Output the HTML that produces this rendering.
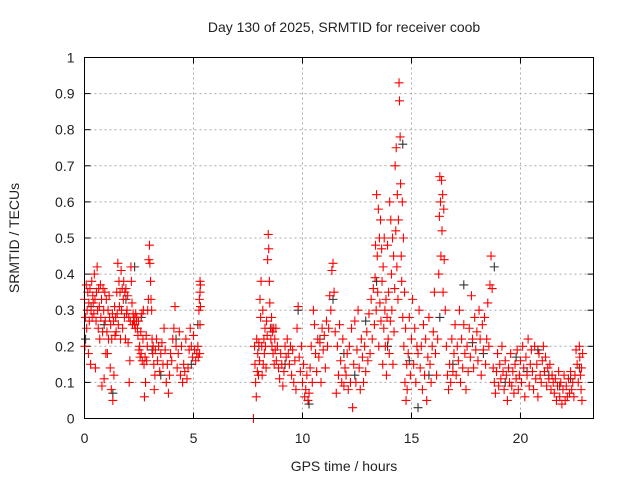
<!DOCTYPE html>
<html><head><meta charset="utf-8"><style>
body{margin:0;background:#fff}
svg text{font-family:"Liberation Sans",sans-serif;font-size:14px;fill:#222}
</style></head><body>
<svg id="chart" width="640" height="480" viewBox="0 0 640 480" xmlns="http://www.w3.org/2000/svg">
<text x="344" y="32" text-anchor="middle">Day 130 of 2025, SRMTID for receiver coob</text>
<text x="344" y="471" text-anchor="middle">GPS time / hours</text>
<text transform="translate(19,238) rotate(-90)" text-anchor="middle">SRMTID / TECUs</text>
<g id="grid"></g>
<g id="axes"></g>
<g id="black-series"></g>
<g id="red-series"></g>
<rect x="84.5" y="57.5" width="509" height="361" fill="none" stroke="#000" stroke-width="1"/>
</svg>
<script>
const xTicks=[0,5,10,15,20];
const yTicks=[0,0.1,0.2,0.3,0.4,0.5,0.6,0.7,0.8,0.9,1];
const yTickLabels=["0","0.1","0.2","0.3","0.4","0.5","0.6","0.7","0.8","0.9","1"];
const redHours=[
0.0,0.02,0.05,0.08,0.1,0.12,0.15,0.18,0.2,0.22,
0.25,0.28,0.3,0.33,0.35,0.38,0.4,0.43,0.45,0.48,
0.5,0.53,0.55,0.58,0.6,0.63,0.65,0.68,0.7,0.73,
0.75,0.78,0.8,0.83,0.85,0.88,0.9,0.93,0.95,0.98,
1.0,1.03,1.05,1.08,1.1,1.13,1.15,1.18,1.2,1.23,
1.25,1.28,1.3,1.33,1.35,1.38,1.4,1.43,1.45,1.48,
1.5,1.53,1.55,1.58,1.6,1.63,1.65,1.68,1.7,1.73,
1.75,1.78,1.8,1.83,1.85,1.88,1.9,1.93,1.95,1.98,
2.0,2.03,2.05,2.08,2.1,2.13,2.15,2.18,2.2,2.23,
2.25,2.28,2.3,2.33,2.35,2.38,2.4,2.43,2.45,2.48,
2.5,2.53,2.55,2.58,2.6,2.63,2.65,2.68,2.7,2.73,
2.75,2.78,2.8,2.83,2.85,2.88,2.9,2.93,2.95,2.98,
3.0,3.03,3.05,3.08,3.1,3.13,3.15,3.18,3.2,3.23,
3.25,3.3,3.35,3.4,3.45,3.5,3.55,3.6,3.65,3.7,
3.75,3.8,3.85,3.9,3.95,4.0,4.05,4.1,4.15,4.2,
4.25,4.3,4.35,4.4,4.45,4.5,4.55,4.6,4.65,4.7,
4.75,4.8,4.85,4.9,4.95,5.0,5.05,5.1,5.15,5.2,
5.22,5.25,5.27,5.3,5.3,5.32,5.32,5.3,5.28,7.75,
7.8,7.82,7.85,7.88,7.9,7.93,7.95,7.98,8.0,8.03,
8.05,8.08,8.1,8.13,8.15,8.18,8.2,8.23,8.25,8.28,
8.3,8.33,8.35,8.38,8.4,8.43,8.45,8.48,8.5,8.53,
8.55,8.58,8.6,8.63,8.65,8.68,8.7,8.73,8.75,8.78,
8.8,8.85,8.9,8.95,9.0,9.05,9.1,9.15,9.2,9.25,
9.3,9.35,9.4,9.45,9.5,9.55,9.6,9.65,9.7,9.75,
9.8,9.85,9.9,9.95,10.0,10.05,10.1,10.15,10.2,10.25,
10.3,10.35,10.4,10.45,10.5,10.55,10.6,10.65,10.7,10.75,
10.8,10.85,10.9,10.95,11.0,11.05,11.1,11.15,11.2,11.25,
11.3,11.35,11.4,11.45,11.5,11.55,11.6,11.65,11.7,11.75,
11.8,11.85,11.9,11.95,12.0,12.05,12.1,12.15,12.2,12.25,
12.3,12.35,12.4,12.45,12.5,12.55,12.6,12.65,12.7,12.75,
12.8,12.85,12.9,12.95,13.0,13.05,13.1,13.15,13.2,13.25,
13.3,13.33,13.35,13.38,13.4,13.43,13.45,13.48,13.5,13.53,
13.55,13.58,13.6,13.63,13.65,13.68,13.7,13.73,13.75,13.78,
13.8,13.83,13.85,13.88,13.9,13.93,13.95,13.98,14.0,14.03,
14.05,14.08,14.1,14.13,14.15,14.18,14.2,14.23,14.25,14.28,
14.3,14.33,14.35,14.38,14.4,14.43,14.45,14.48,14.5,14.53,
14.55,14.58,14.6,14.63,14.65,14.68,14.7,14.73,14.75,14.78,
14.8,14.85,14.9,14.95,15.0,15.05,15.1,15.15,15.2,15.25,
15.3,15.35,15.4,15.45,15.5,15.55,15.6,15.65,15.7,15.75,
15.8,15.85,15.9,15.95,16.0,16.05,16.1,16.15,16.2,16.25,
16.28,16.3,16.33,16.35,16.38,16.4,16.43,16.45,16.48,16.5,
16.55,16.6,16.65,16.7,16.75,16.8,16.85,16.9,16.95,17.0,
17.05,17.1,17.15,17.2,17.25,17.3,17.35,17.4,17.45,17.5,
17.55,17.6,17.65,17.7,17.75,17.8,17.85,17.9,17.95,18.0,
18.05,18.1,18.15,18.2,18.25,18.3,18.35,18.4,18.45,18.5,
18.55,18.6,18.65,18.7,18.75,18.8,18.85,18.9,18.95,19.0,
19.05,19.1,19.15,19.2,19.25,19.3,19.35,19.4,19.45,19.5,
19.55,19.6,19.65,19.7,19.75,19.8,19.85,19.9,19.95,20.0,
20.05,20.1,20.15,20.2,20.25,20.3,20.35,20.4,20.45,20.5,
20.55,20.6,20.65,20.7,20.75,20.8,20.85,20.9,20.95,21.0,
21.05,21.1,21.15,21.2,21.25,21.3,21.35,21.4,21.45,21.5,
21.55,21.6,21.65,21.7,21.75,21.8,21.85,21.9,21.95,22.0,
22.05,22.1,22.15,22.2,22.25,22.3,22.35,22.4,22.45,22.5,
22.55,22.6,22.65,22.7,22.72,22.75,22.78,22.8,22.82,22.85];
const redValues=[
0.33,0.2,0.28,0.37,0.25,0.3,0.35,0.18,0.32,0.27,
0.36,0.15,0.3,0.38,0.28,0.34,0.32,0.29,0.4,0.33,
0.14,0.27,0.35,0.42,0.3,0.25,0.36,0.31,0.22,0.37,
0.28,0.33,0.09,0.24,0.36,0.3,0.11,0.35,0.27,0.18,
0.33,0.24,0.18,0.3,0.22,0.34,0.28,0.14,0.26,0.08,
0.22,0.29,0.05,0.27,0.12,0.31,0.23,0.28,0.24,0.35,
0.29,0.43,0.26,0.38,0.31,0.35,0.22,0.41,0.3,0.36,
0.25,0.33,0.38,0.28,0.35,0.22,0.36,0.29,0.3,0.34,
0.21,0.28,0.1,0.16,0.27,0.42,0.38,0.32,0.26,0.29,
0.27,0.28,0.26,0.25,0.29,0.27,0.28,0.25,0.23,0.27,
0.19,0.2,0.17,0.24,0.18,0.29,0.16,0.22,0.3,0.15,
0.06,0.17,0.1,0.23,0.16,0.2,0.3,0.33,0.44,0.48,
0.43,0.38,0.33,0.3,0.22,0.18,0.2,0.15,0.08,0.12,
0.19,0.22,0.16,0.2,0.13,0.18,0.21,0.15,0.25,0.19,
0.1,0.15,0.07,0.12,0.18,0.16,0.22,0.25,0.31,0.2,
0.14,0.18,0.24,0.12,0.2,0.1,0.15,0.13,0.22,0.11,
0.14,0.19,0.25,0.2,0.17,0.23,0.19,0.16,0.18,0.2,
0.17,0.3,0.33,0.35,0.38,0.37,0.31,0.26,0.18,0.0,
0.2,0.15,0.1,0.06,0.22,0.13,0.18,0.12,0.21,0.16,
0.33,0.28,0.38,0.2,0.12,0.3,0.15,0.22,0.18,0.25,
0.2,0.14,0.27,0.23,0.44,0.51,0.47,0.38,0.32,0.25,
0.22,0.28,0.2,0.24,0.18,0.25,0.15,0.22,0.19,0.25,
0.16,0.2,0.14,0.11,0.18,0.15,0.09,0.13,0.2,0.17,
0.22,0.18,0.15,0.2,0.12,0.19,0.1,0.16,0.08,0.25,
0.31,0.17,0.13,0.2,0.1,0.15,0.06,0.08,0.12,0.05,
0.07,0.14,0.2,0.1,0.3,0.26,0.18,0.13,0.22,0.17,
0.21,0.1,0.25,0.19,0.23,0.14,0.27,0.2,0.25,0.34,
0.3,0.41,0.43,0.35,0.24,0.07,0.2,0.12,0.26,0.16,
0.1,0.22,0.09,0.14,0.12,0.18,0.08,0.2,0.1,0.25,
0.03,0.15,0.27,0.1,0.19,0.3,0.14,0.08,0.22,0.17,
0.1,0.2,0.13,0.24,0.16,0.29,0.18,0.33,0.22,0.36,
0.26,0.39,0.48,0.3,0.62,0.45,0.35,0.58,0.2,0.5,
0.32,0.55,0.27,0.47,0.38,0.15,0.42,0.25,0.5,0.3,
0.2,0.33,0.12,0.28,0.48,0.22,0.35,0.18,0.6,0.27,
0.55,0.4,0.3,0.5,0.15,0.45,0.24,0.36,0.7,0.52,
0.75,0.42,0.62,0.33,0.55,0.93,0.88,0.78,0.65,0.45,
0.38,0.6,0.28,0.5,0.2,0.35,0.1,0.25,0.05,0.15,
0.08,0.18,0.28,0.12,0.22,0.33,0.15,0.25,0.1,0.2,
0.18,0.3,0.14,0.2,0.08,0.26,0.12,0.22,0.05,0.17,
0.28,0.15,0.1,0.2,0.24,0.35,0.18,0.12,0.22,0.4,
0.56,0.67,0.6,0.45,0.66,0.52,0.62,0.35,0.58,0.44,
0.3,0.2,0.12,0.08,0.15,0.1,0.22,0.13,0.18,0.26,
0.12,0.2,0.16,0.3,0.1,0.22,0.14,0.26,0.18,0.08,
0.2,0.13,0.25,0.17,0.34,0.22,0.14,0.28,0.19,0.24,
0.16,0.3,0.22,0.12,0.26,0.19,0.28,0.15,0.22,0.32,
0.2,0.37,0.45,0.36,0.14,0.1,0.07,0.13,0.18,0.09,
0.15,0.11,0.2,0.13,0.08,0.16,0.12,0.05,0.14,0.1,
0.18,0.09,0.13,0.07,0.15,0.11,0.19,0.08,0.12,0.16,
0.1,0.2,0.14,0.06,0.17,0.12,0.22,0.09,0.15,0.19,
0.13,0.08,0.2,0.11,0.15,0.06,0.18,0.12,0.1,0.16,
0.2,0.13,0.17,0.09,0.14,0.11,0.15,0.08,0.12,0.1,
0.07,0.11,0.05,0.09,0.13,0.06,0.1,0.04,0.08,0.12,
0.05,0.09,0.06,0.11,0.07,0.13,0.08,0.1,0.06,0.12,
0.19,0.15,0.1,0.2,0.17,0.12,0.08,0.14,0.05,0.18];
const blackHours=[0.05,0.3,0.9,1.3,1.9,2.3,2.6,3.1,3.5,4.2,4.9,5.2,8.0,8.6,9.2,9.8,10.3,10.8,11.4,11.9,12.4,12.9,13.4,13.9,14.6,14.9,15.3,15.8,16.3,16.9,17.4,17.8,18.3,18.8,19.3,19.8,20.3,20.8,21.3,21.8,22.3,22.7];
const blackValues=[0.22,0.31,0.26,0.07,0.33,0.42,0.28,0.19,0.12,0.22,0.15,0.26,0.2,0.25,0.15,0.3,0.04,0.22,0.33,0.18,0.12,0.27,0.38,0.2,0.76,0.16,0.03,0.12,0.28,0.15,0.37,0.21,0.18,0.42,0.1,0.17,0.13,0.19,0.12,0.09,0.11,0.14];
const L=84.5,R=593.5,T=57.5,B=418.5,XMAX=23.35;
const xs=v=>L+v/XMAX*(R-L);
const ys=v=>B-v*(B-T);
const NS="http://www.w3.org/2000/svg";
function mk(tag,attrs,parent){const e=document.createElementNS(NS,tag);for(const k in attrs)e.setAttribute(k,attrs[k]);parent.appendChild(e);return e;}
const grid=document.getElementById('grid'),axes=document.getElementById('axes');
yTicks.forEach((t,i)=>{
  const y=ys(t);
  if(i>0&&i<yTicks.length-1){const g=mk('line',{x1:L,x2:R,y1:y,y2:y,stroke:'#aaa','stroke-dasharray':'2,3','stroke-width':1},grid);
  
  }
  const lab=mk('text',{x:L-10,y:y+5,'text-anchor':'end'},axes);lab.textContent=yTickLabels[i];
  
  
  mk('line',{x1:L,x2:L+6,y1:y,y2:y,stroke:'#000'},axes);
  mk('line',{x1:R,x2:R-6,y1:y,y2:y,stroke:'#000'},axes);
});
xTicks.forEach(t=>{
  const x=xs(t);
  if(t>0){const g=mk('line',{x1:x,x2:x,y1:T,y2:B,stroke:'#aaa','stroke-dasharray':'2,3','stroke-width':1},grid);
  
  }
  const lab=mk('text',{x:x,y:443,'text-anchor':'middle'},axes);lab.textContent=String(t);
  
  
  mk('line',{x1:x,x2:x,y1:B,y2:B-6,stroke:'#000'},axes);
  mk('line',{x1:x,x2:x,y1:T,y2:T+6,stroke:'#000'},axes);
});
function plus(g,h,v,color,name){
  const x=xs(h),y=ys(v);
  const p=mk('path',{d:`M${x-4.5} ${y}H${x+4.5}M${x} ${y-4.5}V${y+4.5}`,stroke:color,'stroke-width':1.1,fill:'none'},g);
  
  
}
const bg=document.getElementById('black-series');
blackHours.forEach((h,i)=>plus(bg,h,blackValues[i],'#333','black-point'));
const rg=document.getElementById('red-series');
redHours.forEach((h,i)=>plus(rg,h,redValues[i],'#f00','red-point'));
</script>
</body></html>
